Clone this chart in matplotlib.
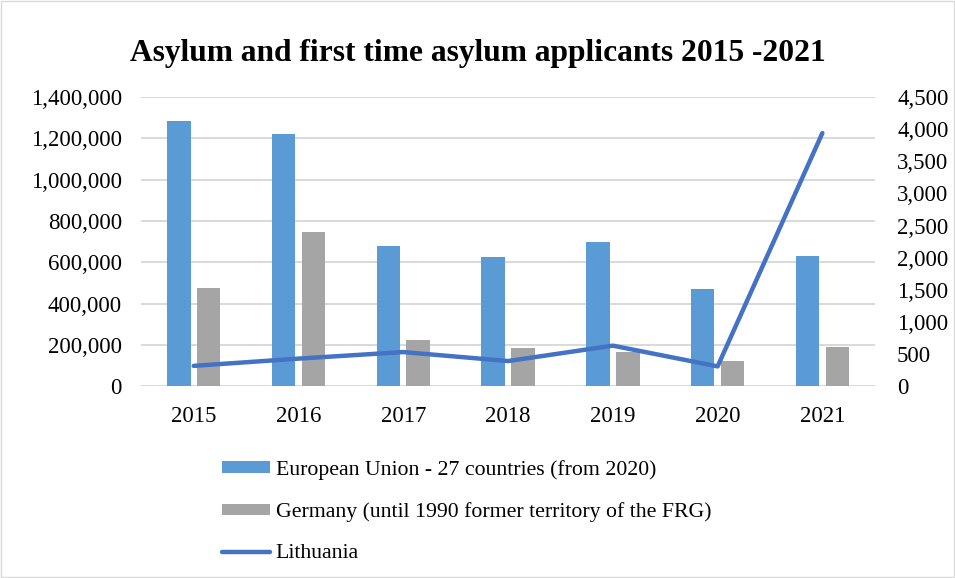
import numpy as np
import matplotlib.pyplot as plt
from matplotlib.patches import Patch, Rectangle
from matplotlib.lines import Line2D
from matplotlib.ticker import FuncFormatter

plt.rcParams['font.family'] = ['Liberation Serif', 'DejaVu Serif']

# Data
years = ['2015', '2016', '2017', '2018', '2019', '2020', '2021']
eu27 = [1282000, 1221000, 677000, 625000, 698000, 472000, 632000]
germany = [477000, 745000, 222000, 185000, 166000, 122000, 190000]
lithuania = [315, 428, 530, 390, 630, 307, 3940]

eu_color = '#5B9BD5'
de_color = '#A5A5A5'
lt_color = '#4472C4'
grid_color = '#D9D9D9'

fig = plt.figure(figsize=(9.55, 5.78), dpi=100)
ax = fig.add_axes([0.148, 0.332, 0.768, 0.50])
ax2 = ax.twinx()

x = np.arange(len(years))
w = 0.225
ax.bar(x - 0.143, eu27, width=w, color=eu_color, zorder=2)
ax.bar(x + 0.143, germany, width=w, color=de_color, zorder=2)

ax.set_ylim(0, 1400000)
ax.set_yticks(np.arange(0, 1400001, 200000))
ax.yaxis.set_major_formatter(FuncFormatter(lambda v, p: f'{int(v):,}'))
ax.set_xlim(-0.5, len(years) - 0.5)
ax.set_xticks(x)
ax.set_xticklabels(years)
ax.grid(axis='y', color=grid_color, lw=1.4, zorder=0)
ax.set_axisbelow(True)

ax2.plot(x, lithuania, color=lt_color, lw=3.2, solid_capstyle='round', zorder=3)
ax2.set_ylim(0, 4500)
ax2.set_yticks(np.arange(0, 4501, 500))
ax2.yaxis.set_major_formatter(FuncFormatter(lambda v, p: f'{int(v):,}'))

for a in (ax, ax2):
    for s in a.spines.values():
        s.set_visible(False)
    a.tick_params(length=0, labelsize=16.5, colors='black')
ax.tick_params(axis='x', pad=14)
ax.tick_params(axis='y', pad=14)
ax2.tick_params(axis='y', pad=16)

fig.text(0.5, 0.908, 'Asylum and first time asylum applicants 2015 -2021',
         ha='center', va='center', fontsize=22.7, fontweight='bold')

handles = [
    Patch(facecolor=eu_color, edgecolor='none'),
    Patch(facecolor=de_color, edgecolor='none'),
    Line2D([0], [0], color=lt_color, lw=3.2, solid_capstyle='round'),
]
labels = ['European Union - 27 countries (from 2020)',
          'Germany (until 1990 former territory of the FRG)',
          'Lithuania']
fig.legend(handles, labels, loc='upper left', bbox_to_anchor=(0.223, 0.219),
           frameon=False, fontsize=15.7, handlelength=2.2, handleheight=0.45,
           handletextpad=0.28, labelspacing=1.02, borderaxespad=0)

fig.patches.append(Rectangle((0.001, 0.001), 0.998, 0.998, transform=fig.transFigure,
                             fill=False, edgecolor='#D9D9D9', lw=1))

fig.savefig('out.png', dpi=100)
